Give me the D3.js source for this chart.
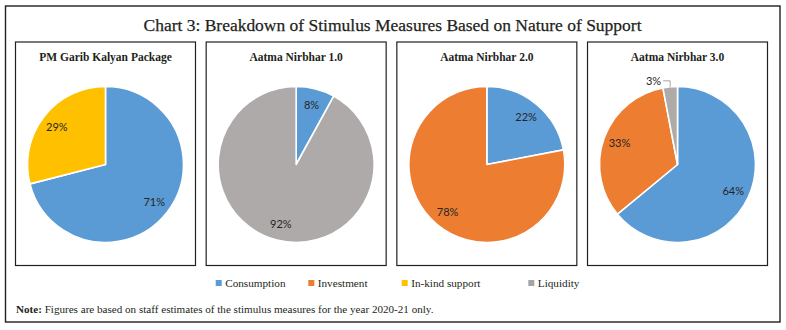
<!DOCTYPE html>
<html>
<head>
<meta charset="utf-8">
<script src="https://cdn.jsdelivr.net/npm/d3@7"></script>
<style>
  html, body { margin: 0; padding: 0; background: #fff; }
  svg { display: block; }
</style>
</head>
<body>
<svg id="chart" width="786" height="330"></svg>
<script>
// ---- data ----
const categories = ["Consumption", "Investment", "In-kind support", "Liquidity"];
const packages = ["PM Garib Kalyan Package", "Aatma Nirbhar 1.0", "Aatma Nirbhar 2.0", "Aatma Nirbhar 3.0"];
const pmGaribKalyan = [71, 0, 29, 0];
const aatmaNirbhar1 = [8, 0, 0, 92];
const aatmaNirbhar2 = [22, 78, 0, 0];
const aatmaNirbhar3 = [64, 33, 0, 3];
const seriesValues = [pmGaribKalyan, aatmaNirbhar1, aatmaNirbhar2, aatmaNirbhar3];
const chartTitle = "Chart 3: Breakdown of Stimulus Measures Based on Nature of Support";
const noteBold = "Note:";
const noteText = " Figures are based on staff estimates of the stimulus measures for the year 2020-21 only.";

// ---- styles / layout ----
const colors = ["#5B9BD5", "#ED7D31", "#FFC000", "#AEAAAA"];
const legendColors = ["#5B9BD5", "#ED7D31", "#FFC000", "#A5A5A5"];
const legendSlots = [215.7, 308.3, 401.7, 528.3];
const serif = "'Liberation Serif', 'DejaVu Serif', serif";
const sans = "Lato, 'Liberation Sans', sans-serif";

const svg = d3.select("#chart");
const color = d3.scaleOrdinal().domain(categories).range(colors);

// outer frame
svg.append("rect")
  .attr("x", 5.5).attr("y", 6).attr("width", 774.5).attr("height", 316)
  .attr("fill", "none").attr("stroke", "#231f20").attr("stroke-width", 1.4);

// title
svg.append("text")
  .attr("x", 392.5).attr("y", 31)
  .attr("text-anchor", "middle")
  .style("font-family", serif).style("font-size", "17.5px").style("fill", "#231f20")
  .style("stroke", "#231f20").style("stroke-width", 0.25)
  .attr("textLength", 498).attr("lengthAdjust", "spacingAndGlyphs")
  .text(chartTitle);

// panels
const panelX = d3.scaleBand().domain(packages).range([15.5, 767.5]).paddingInner(0.056);
const panelTop = 42, panelBottom = 265.5;
const pieCy = 164.5, radius = 78;

const pie = d3.pie().sort(null).value(d => d.value).startAngle(0).endAngle(2 * Math.PI);
const arc = d3.arc().innerRadius(0).outerRadius(radius);
const labelArc = d3.arc().innerRadius(radius * 0.79).outerRadius(radius * 0.79);

packages.forEach((pkg, i) => {
  const x0 = panelX(pkg), w = panelX.bandwidth();
  const g = svg.append("g");
  g.append("rect")
    .attr("x", x0).attr("y", panelTop).attr("width", w).attr("height", panelBottom - panelTop)
    .attr("fill", "#fff").attr("stroke", "#231f20").attr("stroke-width", 1.2);
  g.append("text")
    .attr("x", x0 + w / 2).attr("y", 61)
    .attr("text-anchor", "middle")
    .style("font-family", serif).style("font-size", "11.5px").style("font-weight", "bold").style("fill", "#231f20")
    .text(pkg);

  const data = categories.map((c, k) => ({ cat: c, value: seriesValues[i][k] })).filter(d => d.value > 0);
  const arcs = pie(data);
  const pg = g.append("g").attr("transform", `translate(${x0 + w / 2},${pieCy})`);
  pg.selectAll("path").data(arcs).join("path")
    .attr("d", arc)
    .attr("fill", d => color(d.data.cat))
    .attr("stroke", "#fff").attr("stroke-width", 1.6).attr("stroke-linejoin", "round");

  arcs.forEach(a => {
    const mid = (a.startAngle + a.endAngle) / 2;
    if (a.data.value < 5) {
      // small slice: label outside with leader line
      const ex = Math.sin(mid) * radius, ey = -Math.cos(mid) * radius;
      const ky = ey - 6, kx = ex;
      const lx = kx - 7;
      pg.append("path")
        .attr("d", `M${ex},${ey}L${kx},${ky}L${lx},${ky}`)
        .attr("fill", "none").attr("stroke", "#8c8c8c").attr("stroke-width", 0.8);
      pg.append("text")
        .attr("x", lx - 2).attr("y", ky + 3.8)
        .attr("text-anchor", "end")
        .style("font-family", sans).style("font-size", "11px").style("fill", "#262626")
        .text(a.data.value + "%");
    } else {
      const [cx, cy] = labelArc.centroid(a);
      pg.append("text")
        .attr("x", cx).attr("y", cy + 3.8)
        .attr("text-anchor", "middle")
        .style("font-family", sans).style("font-size", "11px").style("fill", "#262626")
        .text(a.data.value + "%");
    }
  });
});

// legend
const lg = svg.append("g");
categories.forEach((c, k) => {
  const x = legendSlots[k];
  lg.append("rect").attr("x", x).attr("y", 280).attr("width", 6).attr("height", 6)
    .attr("fill", legendColors[k]);
  lg.append("text").attr("x", x + 9.5).attr("y", 286.8)
    .style("font-family", serif).style("font-size", "11.2px").style("fill", "#231f20")
    .text(c);
});

// note
const note = svg.append("text").attr("x", 16).attr("y", 312.5)
  .style("font-family", serif).style("font-size", "11.1px").style("fill", "#231f20");
note.append("tspan").style("font-weight", "bold").text(noteBold);
note.append("tspan").text(noteText);
</script>
</body>
</html>
